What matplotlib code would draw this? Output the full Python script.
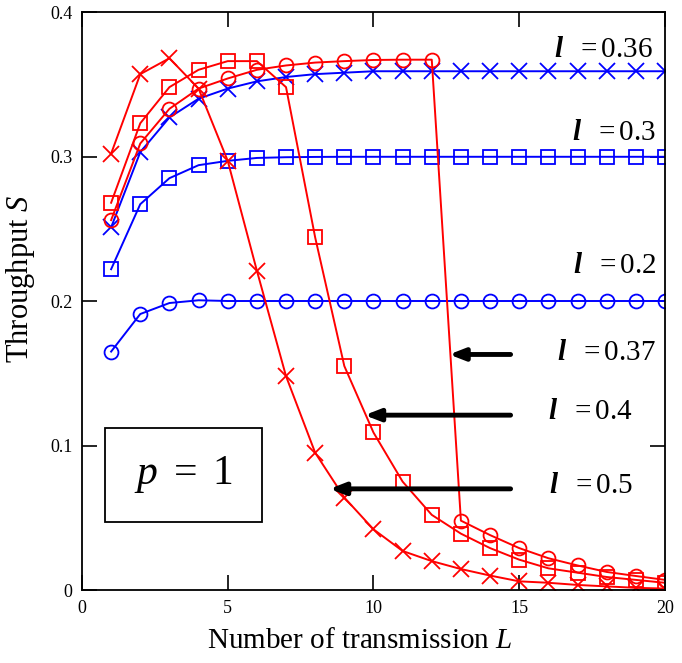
import matplotlib.pyplot as plt
from matplotlib.patches import Rectangle

plt.rcParams['font.family'] = ['Liberation Serif', 'DejaVu Serif']
plt.rcParams['mathtext.fontset'] = 'custom'
plt.rcParams['mathtext.rm'] = 'Liberation Serif'
plt.rcParams['mathtext.it'] = 'Liberation Serif:italic'
plt.rcParams['mathtext.bf'] = 'Liberation Serif:bold:italic'

L = list(range(1, 21))

# blue curves (stable)
s_02 = [0.165, 0.191, 0.1986, 0.2005, 0.2, 0.2, 0.2, 0.2, 0.2, 0.2,
        0.2, 0.2, 0.2, 0.2, 0.2, 0.2, 0.2, 0.2, 0.2, 0.2]
s_03 = [0.222, 0.267, 0.285, 0.294, 0.297, 0.299, 0.2995, 0.2997, 0.2998, 0.2998,
        0.2998, 0.2998, 0.2998, 0.2998, 0.2998, 0.2998, 0.2998, 0.2998, 0.2998, 0.2998]
s_036 = [0.251, 0.303, 0.327, 0.340, 0.347, 0.352, 0.355, 0.357, 0.358, 0.359,
         0.359, 0.359, 0.359, 0.359, 0.359, 0.359, 0.359, 0.359, 0.359, 0.359]

# red curves (collapse)
s_037 = [0.256, 0.309, 0.333, 0.347, 0.354, 0.360, 0.363, 0.365, 0.366, 0.3668,
         0.367, 0.367, 0.048, 0.038, 0.029, 0.022, 0.017, 0.0125, 0.0097, 0.007]
s_04 = [0.268, 0.323, 0.348, 0.360, 0.366, 0.366, 0.348, 0.244, 0.155, 0.109,
        0.075, 0.052, 0.039, 0.029, 0.021, 0.015, 0.012, 0.009, 0.007, 0.005]
s_05 = [0.302, 0.357, 0.368, 0.347, 0.297, 0.221, 0.148, 0.095, 0.064, 0.042,
        0.027, 0.020, 0.0145, 0.010, 0.006, 0.005, 0.0035, 0.0025, 0.0015, 0.001]

fig = plt.figure(figsize=(6.82, 6.63), dpi=100)
ax = fig.add_axes([0.1202, 0.1101, 0.8548, 0.8718])

mk = dict(markersize=10, markerfacecolor='none', markeredgewidth=1.3, linewidth=1.4)
ax.plot(L, s_02, '-o', color='blue', **mk)
ax.plot(L, s_03, '-s', color='blue', **mk)
ax.plot(L, s_036, '-x', color='blue', **{**mk, 'markersize': 12})
ax.plot(L, s_037, '-o', color='red', **mk)
ax.plot(L, s_04, '-s', color='red', **mk)
ax.plot(L, s_05, '-x', color='red', **{**mk, 'markersize': 12})

ax.set_xlim(0, 20)
ax.set_ylim(0, 0.4)
ax.set_xticks([0, 5, 10, 15, 20])
ax.set_yticks([0, 0.1, 0.2, 0.3, 0.4])
ax.set_yticklabels(['0', '0.1', '0.2', '0.3', '0.4'])
ax.tick_params(direction='in', length=11, width=1.2, top=True, right=True,
               labelsize=13, pad=7)
for sp in ax.spines.values():
    sp.set_linewidth(1.3)

ax.set_xlabel('Number of transmission $L$', fontsize=21)
ax.set_ylabel('Throughput $S$', fontsize=22)
ax.xaxis.set_label_coords(0.477, -0.066)
ax.yaxis.set_label_coords(-0.078, 0.538)

lab = dict(fontsize=21, ha='right', va='center')
ax.text(19.6, 0.374, r'$\mathbf{l}\ \ =0.36$', **lab)
ax.text(19.7, 0.316, r'$\mathbf{l}\ \ =0.3$', **lab)
ax.text(19.7, 0.224, r'$\mathbf{l}\ \ =0.2$', **lab)
ax.text(19.7, 0.164, r'$\mathbf{l}\ \ =0.37$', **lab)
ax.text(18.9, 0.123, r'$\mathbf{l}\ \ =0.4$', **lab)
ax.text(18.9, 0.072, r'$\mathbf{l}\ \ =0.5$', **lab)

arr = dict(arrowstyle='-|>,head_length=0.9,head_width=0.35', color='black', lw=3.5)
ax.annotate('', xy=(12.5, 0.163), xytext=(14.8, 0.163), arrowprops=arr)
ax.annotate('', xy=(9.6, 0.121), xytext=(14.8, 0.121), arrowprops=arr)
ax.annotate('', xy=(8.4, 0.070), xytext=(14.8, 0.070), arrowprops=arr)

ax.add_patch(Rectangle((0.0395, 0.1176), 0.2695, 0.1624, transform=ax.transAxes,
                       facecolor='white', edgecolor='black', lw=1.3, zorder=3))
ax.text(0.174, 0.199, r'$p\ =\ 1$', fontsize=30, ha='center', va='center',
        transform=ax.transAxes, zorder=4)

fig.savefig('out.png', dpi=100)
